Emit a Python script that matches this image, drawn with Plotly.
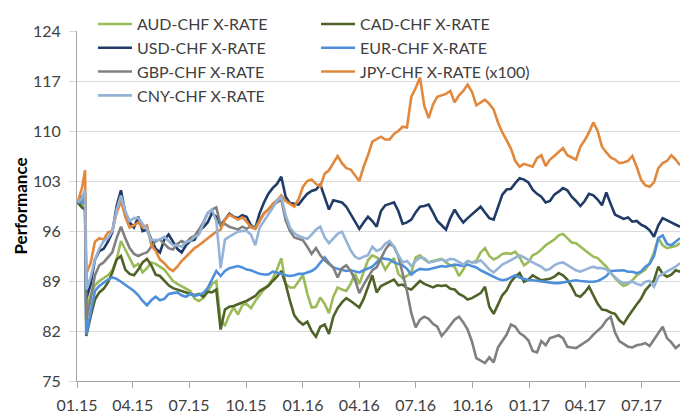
import datetime as dt
import plotly.graph_objects as go

# ---- time axis: weekly observations (Fridays) plus the day before the SNB floor removal
week_starts = [dt.date(2015, 1, 2) + dt.timedelta(days=7 * i) for i in range(140)]
dates = week_starts[:2] + [dt.date(2015, 1, 14)] + week_starts[2:]

series_names = [
    "AUD-CHF X-RATE", "CAD-CHF X-RATE", "USD-CHF X-RATE", "EUR-CHF X-RATE",
    "GBP-CHF X-RATE", "JPY-CHF X-RATE (x100)", "CNY-CHF X-RATE",
]

aud = [
    100.0, 99.6, 100.8, 85.0, 87.0, 88.4, 89.0, 89.4, 89.8, 90.5, 92.0,
    94.6, 93.4, 92.0, 91.0, 91.4, 90.2, 90.8, 91.6, 91.4, 91.0,
    90.6, 89.8, 89.0, 88.6, 88.3, 88.0, 87.6, 86.5, 86.2, 86.6,
    87.4, 88.6, 89.0, 83.4, 82.8, 84.2, 85.3, 84.3, 85.6, 85.8,
    85.2, 86.2, 87.0, 87.8, 88.4, 89.3, 90.6, 92.2, 88.6, 88.1,
    88.1, 89.0, 89.8, 87.2, 85.3, 85.4, 86.7, 85.8, 84.5, 86.8,
    88.1, 87.8, 87.6, 88.6, 90.0, 88.6, 90.4, 91.9, 92.6, 92.3,
    91.8, 90.6, 91.5, 92.2, 90.0, 89.4, 89.7, 90.2, 92.3, 92.6,
    92.0, 91.6, 91.8, 92.0, 92.1, 91.6, 91.2, 91.0, 89.7, 90.6,
    91.8, 91.6, 91.8, 93.0, 93.6, 92.5, 92.0, 92.3, 92.8, 92.9,
    92.8, 93.1, 92.3, 91.2, 91.6, 92.6, 92.9, 93.4, 94.0, 94.4,
    94.8, 95.4, 95.6, 95.0, 94.4, 94.3, 93.8, 93.4, 92.8, 92.4,
    92.2, 91.6, 91.0, 90.2, 89.4, 88.8, 88.3, 88.6, 89.1, 89.8,
    90.2, 90.6, 91.5, 93.0, 95.0, 94.0, 93.6, 93.8, 93.9, 94.3,
]

cad = [
    100.0, 99.3, 99.0, 81.3, 84.0, 86.4, 87.4, 87.9, 88.8, 90.2, 92.0,
    92.5, 90.6, 90.0, 89.8, 90.6, 91.6, 92.1, 91.2, 89.9, 89.7,
    89.0, 88.4, 88.0, 87.8, 87.6, 87.5, 87.2, 87.0, 87.2, 86.8,
    87.5, 87.4, 87.8, 82.2, 85.0, 85.4, 85.5, 85.8, 86.0, 86.2,
    86.6, 86.9, 87.6, 88.0, 88.3, 89.0, 89.6, 90.4, 88.6, 86.2,
    84.2, 83.4, 82.9, 83.3, 82.0, 81.2, 82.6, 82.9, 81.6, 84.0,
    85.2, 86.0, 86.6, 86.2, 85.7, 85.3, 86.5, 88.1, 89.8, 87.4,
    88.3, 88.6, 88.9, 89.2, 88.4, 88.5, 88.0, 87.8, 88.4, 89.0,
    88.6, 88.3, 88.1, 88.4, 88.3, 88.4, 87.9, 87.8, 87.2, 86.9,
    86.4, 86.6, 87.0, 87.3, 88.2, 85.4, 84.4, 85.8, 87.0, 87.7,
    88.9, 89.6, 90.1, 88.9, 89.2, 89.8, 89.4, 89.1, 89.2, 89.3,
    89.6, 90.1, 89.8, 89.2, 88.2, 87.0, 86.8, 87.4, 88.2, 87.0,
    85.8, 85.0, 84.9, 84.6, 84.4, 83.5, 83.0, 84.0, 84.9, 85.7,
    86.5, 87.7, 88.4, 89.1, 91.0, 90.0, 89.6, 89.9, 90.5, 90.3,
]

usd = [
    100.0, 100.8, 101.3, 86.5, 88.5, 92.0, 93.2, 93.5, 94.5, 95.8, 99.5,
    101.7, 98.5, 97.2, 96.5, 98.0, 96.0, 96.2, 94.8, 93.5, 93.0,
    94.8, 95.5, 94.5, 93.5, 93.0, 94.0, 94.6, 94.8, 96.0, 96.5,
    97.2, 98.5, 98.0, 96.8, 97.6, 98.4, 98.0, 97.8, 98.2, 98.0,
    96.8, 96.4, 98.5, 100.0, 101.2, 102.0, 102.6, 103.6, 100.8, 99.9,
    99.8, 99.7, 100.5, 101.2, 101.6, 101.8, 102.5, 100.6, 99.0, 100.3,
    100.2, 100.0, 99.4, 98.4, 97.4, 96.3, 97.2, 98.0, 97.4, 96.6,
    98.8, 99.6, 99.8, 100.0, 98.8, 97.0, 97.2, 97.6, 98.6, 99.4,
    99.5, 99.7, 98.6, 97.4, 96.8, 96.2, 97.8, 99.0, 98.0, 97.2,
    97.8, 98.3, 98.8, 99.4, 98.6, 97.8, 97.6, 99.4, 101.1, 101.8,
    101.9, 102.7, 103.4, 103.2, 102.8, 101.8, 101.2, 100.8, 100.0, 100.2,
    101.1, 101.5, 102.0, 101.7, 100.8, 100.2, 99.5, 100.2, 101.2, 101.0,
    100.4, 99.6, 101.4, 99.8, 98.3, 98.0, 97.7, 97.9, 97.3, 97.4,
    96.9, 96.6, 96.1, 95.2, 96.8, 97.8, 97.5, 97.2, 96.9, 96.6,
]

eur = [
    100.0, 100.0, 100.0, 81.5, 84.5, 87.6, 88.3, 88.8, 89.2, 89.5, 89.3,
    88.9, 88.5, 88.0, 87.6, 87.0, 86.2, 85.6, 86.3, 86.8, 86.3,
    86.5, 87.2, 87.3, 87.4, 87.0, 86.8, 87.2, 86.9, 87.1, 87.3,
    88.0, 89.3, 90.4, 89.7, 90.4, 90.8, 91.0, 91.1, 90.9, 90.6,
    90.5, 90.2, 90.0, 89.9, 89.9, 90.3, 90.2, 90.0, 89.8, 89.7,
    89.8, 90.0, 90.0, 90.2, 90.4, 90.8, 91.5, 92.3, 91.5, 90.9,
    90.7, 90.5, 90.4, 90.5, 90.3, 90.2, 90.5, 90.7, 91.0, 91.6,
    92.2, 92.1, 92.0, 91.6, 91.4, 91.2, 90.7, 89.9, 90.4, 90.7,
    90.6, 90.6, 90.8, 91.0, 91.1, 91.0, 91.2, 91.3, 91.2, 91.1,
    91.3, 91.1, 90.9, 90.5, 90.2, 89.8, 89.5, 89.3, 89.1, 89.2,
    89.5, 89.8, 89.5, 89.3, 89.1, 89.1, 89.0, 88.9, 88.9, 88.8,
    88.7, 88.7, 88.8, 88.9, 89.0, 89.1, 89.0, 88.9, 88.9, 88.9,
    89.0, 89.3, 89.7, 90.4, 90.4, 90.5, 90.5, 90.3, 90.3, 90.1,
    90.3, 91.0, 91.4, 92.5, 95.0, 95.4, 94.2, 94.0, 94.5, 95.0,
]

gbp = [
    100.0, 100.5, 100.2, 83.5, 86.5, 89.8, 91.2, 91.6, 92.3, 93.0, 95.0,
    96.6, 95.0, 93.6, 92.8, 92.5, 92.8, 93.0, 93.8, 94.6, 94.8,
    94.2, 93.6, 93.4, 94.2, 94.6, 94.3, 95.0, 95.3, 96.2, 97.2,
    98.5, 99.0, 99.3, 96.8, 97.0, 96.6, 96.4, 96.2, 96.6, 96.3,
    96.7, 96.4, 97.5, 98.5, 99.0, 99.6, 100.0, 100.4, 97.5, 96.0,
    95.1, 94.9, 94.7, 93.8, 92.8, 93.6, 92.6, 91.9, 91.4, 90.9,
    89.5, 90.8, 91.2, 90.4, 89.2, 87.3, 88.5, 89.5, 90.5, 90.9,
    92.2, 93.4, 94.2, 93.8, 92.5, 90.0, 87.6, 84.5, 82.5, 83.6,
    84.0, 83.7, 83.0, 82.6, 81.3, 82.0, 82.8, 83.6, 84.0, 83.2,
    82.2, 80.5, 78.2, 77.8, 77.5, 78.3, 77.6, 79.7, 80.6, 81.5,
    82.9, 82.6, 81.7, 81.3, 80.7, 79.2, 79.0, 80.6, 80.0, 81.0,
    81.2, 81.4, 81.0, 79.8, 79.7, 79.6, 80.0, 80.4, 80.8, 81.5,
    82.0, 82.6, 83.5, 84.0, 81.8, 80.6, 80.2, 79.8, 79.7, 80.0,
    80.1, 80.3, 79.9, 80.8, 81.8, 82.6, 81.0, 80.4, 79.6, 80.1,
]

jpy = [
    100.0, 102.0, 104.5, 90.0, 91.5, 94.5, 95.0, 94.8, 95.8, 96.0, 98.5,
    100.2, 98.0, 96.5, 96.8, 97.2, 96.5, 96.8, 94.0, 93.2, 92.0,
    91.5, 90.8, 90.4, 91.0, 91.8, 92.4, 93.0, 93.6, 94.0, 94.5,
    95.0, 95.4, 95.9, 96.2, 97.6, 98.3, 98.0, 97.6, 97.9, 97.3,
    96.5, 96.3, 97.4, 98.4, 99.0, 99.8, 100.3, 101.0, 100.2, 99.8,
    99.4, 100.5, 102.2, 103.0, 103.2, 102.6, 102.2, 104.0, 104.5, 105.5,
    106.5, 105.5, 104.8, 104.6, 103.8, 103.0, 105.0, 106.6, 108.5, 108.9,
    109.2, 108.8, 108.8, 109.6, 110.0, 110.6, 110.5, 114.8, 116.0, 117.5,
    113.5, 111.8, 113.7, 114.8, 115.0, 115.2, 115.6, 114.0, 115.0, 115.6,
    116.5, 115.5, 113.6, 114.0, 114.4, 113.8, 113.0, 111.2, 109.8, 108.7,
    107.5, 105.8, 105.0, 105.4, 105.2, 105.0, 106.2, 106.6, 105.1, 106.0,
    106.5, 107.0, 107.6, 106.6, 106.3, 106.0, 107.8, 108.7, 109.8, 111.2,
    110.0, 107.8, 107.0, 106.3, 106.0, 105.5, 105.6, 105.8, 106.5, 105.0,
    103.2, 102.4, 102.2, 102.8, 104.8, 105.5, 105.8, 106.6, 106.0, 105.2,
]

cny = [
    100.0, 100.6, 101.8, 87.8, 89.5, 92.0, 93.5, 94.6, 95.0, 96.0, 99.0,
    101.0, 98.8, 97.4, 97.8, 97.8, 97.0, 96.2, 94.7, 94.7, 94.8,
    95.2, 94.6, 94.0, 94.0, 93.8, 94.5, 94.6, 95.2, 95.5, 97.0,
    98.5, 99.0, 97.4, 90.8, 94.8, 95.2, 95.6, 95.9, 96.0, 96.0,
    95.5, 94.0, 96.5, 97.5, 98.3, 99.2, 100.2, 100.8, 98.2, 96.5,
    95.7, 95.3, 95.1, 94.9, 95.5, 96.2, 96.6, 95.1, 94.3, 95.0,
    95.6, 95.9, 94.5, 93.3, 92.4, 92.1, 92.4, 92.6, 93.8, 93.2,
    93.5, 94.2, 94.6, 93.8, 92.6, 91.6, 91.8, 91.1, 91.8, 92.3,
    92.2, 91.6, 91.7, 91.9, 92.0, 91.8, 92.1, 92.0, 91.6, 91.3,
    91.8, 91.6, 91.6, 91.9, 91.3, 90.6, 90.2, 90.8, 91.3, 91.6,
    91.9, 92.2, 92.6, 92.3, 91.9, 91.6, 91.3, 91.0, 90.5, 90.7,
    91.2, 91.5, 91.6, 91.2, 90.8, 90.5, 90.3, 90.6, 90.8, 91.0,
    90.8, 90.8, 90.6, 90.1, 89.6, 89.0, 88.7, 88.8, 88.9, 88.6,
    88.4, 88.9, 89.0, 88.2, 89.6, 90.0, 90.3, 90.6, 91.0, 91.5,
]

y_ticks = [75, 82, 89, 96, 103, 110, 117, 124]

series_values = [aud, cad, usd, eur, gbp, jpy, cny]
colors = ["#9BBB59", "#4F6228", "#1F3B66", "#4D8FDB", "#808080", "#E2883D", "#95B3D7"]

for name, vals in zip(series_names, series_values):
    assert len(vals) == len(dates), f"{name}: {len(vals)} vs {len(dates)}"

fig = go.Figure()
for name, vals, col in zip(series_names, series_values, colors):
    fig.add_trace(go.Scatter(
        x=dates, y=vals, name=name, mode="lines",
        line=dict(color=col, width=2.6),
    ))

axis_grey = "#a6a6a6"
fig.update_layout(
    width=686, height=414,
    margin=dict(l=77, r=6, t=31, b=33, autoexpand=False),
    plot_bgcolor="white", paper_bgcolor="white",
    font=dict(family="Lato, 'Open Sans', sans-serif", size=16, color="#404040"),
    legend=dict(
        orientation="h", xref="container", yref="container",
        x=0.1356, y=0.983, xanchor="left", yanchor="top",
        entrywidth=174, entrywidthmode="pixels",
        bgcolor="rgba(0,0,0,0)", font=dict(size=16, color="#404040"),
        itemwidth=34,
    ),
    xaxis=dict(
        type="date", range=["2015-01-01", "2017-09-01"],
        tickformat="%m.%y", dtick="M3", tick0="2015-01-01",
        ticks="outside", ticklen=6, tickcolor=axis_grey,
        ticklabelstandoff=4,
        showline=True, linecolor=axis_grey, linewidth=1,
        showgrid=False, zeroline=False, tickfont=dict(size=16),
    ),
    yaxis=dict(
        range=[75, 124], tickvals=y_ticks,
        ticks="outside", ticklen=7, tickcolor="#d9d9d9",
        ticklabelstandoff=5,
        showline=True, linecolor=axis_grey, linewidth=1,
        showgrid=True, gridcolor="#d9d9d9", gridwidth=1, zeroline=False,
        tickfont=dict(size=16),
        title=dict(text="<b>Performance</b>", font=dict(size=17, color="#000000"), standoff=1),
    ),
)

fig.write_html(
    "out.html",
    config={"displayModeBar": False},
    post_script="document.body.style.margin='0';",
)
